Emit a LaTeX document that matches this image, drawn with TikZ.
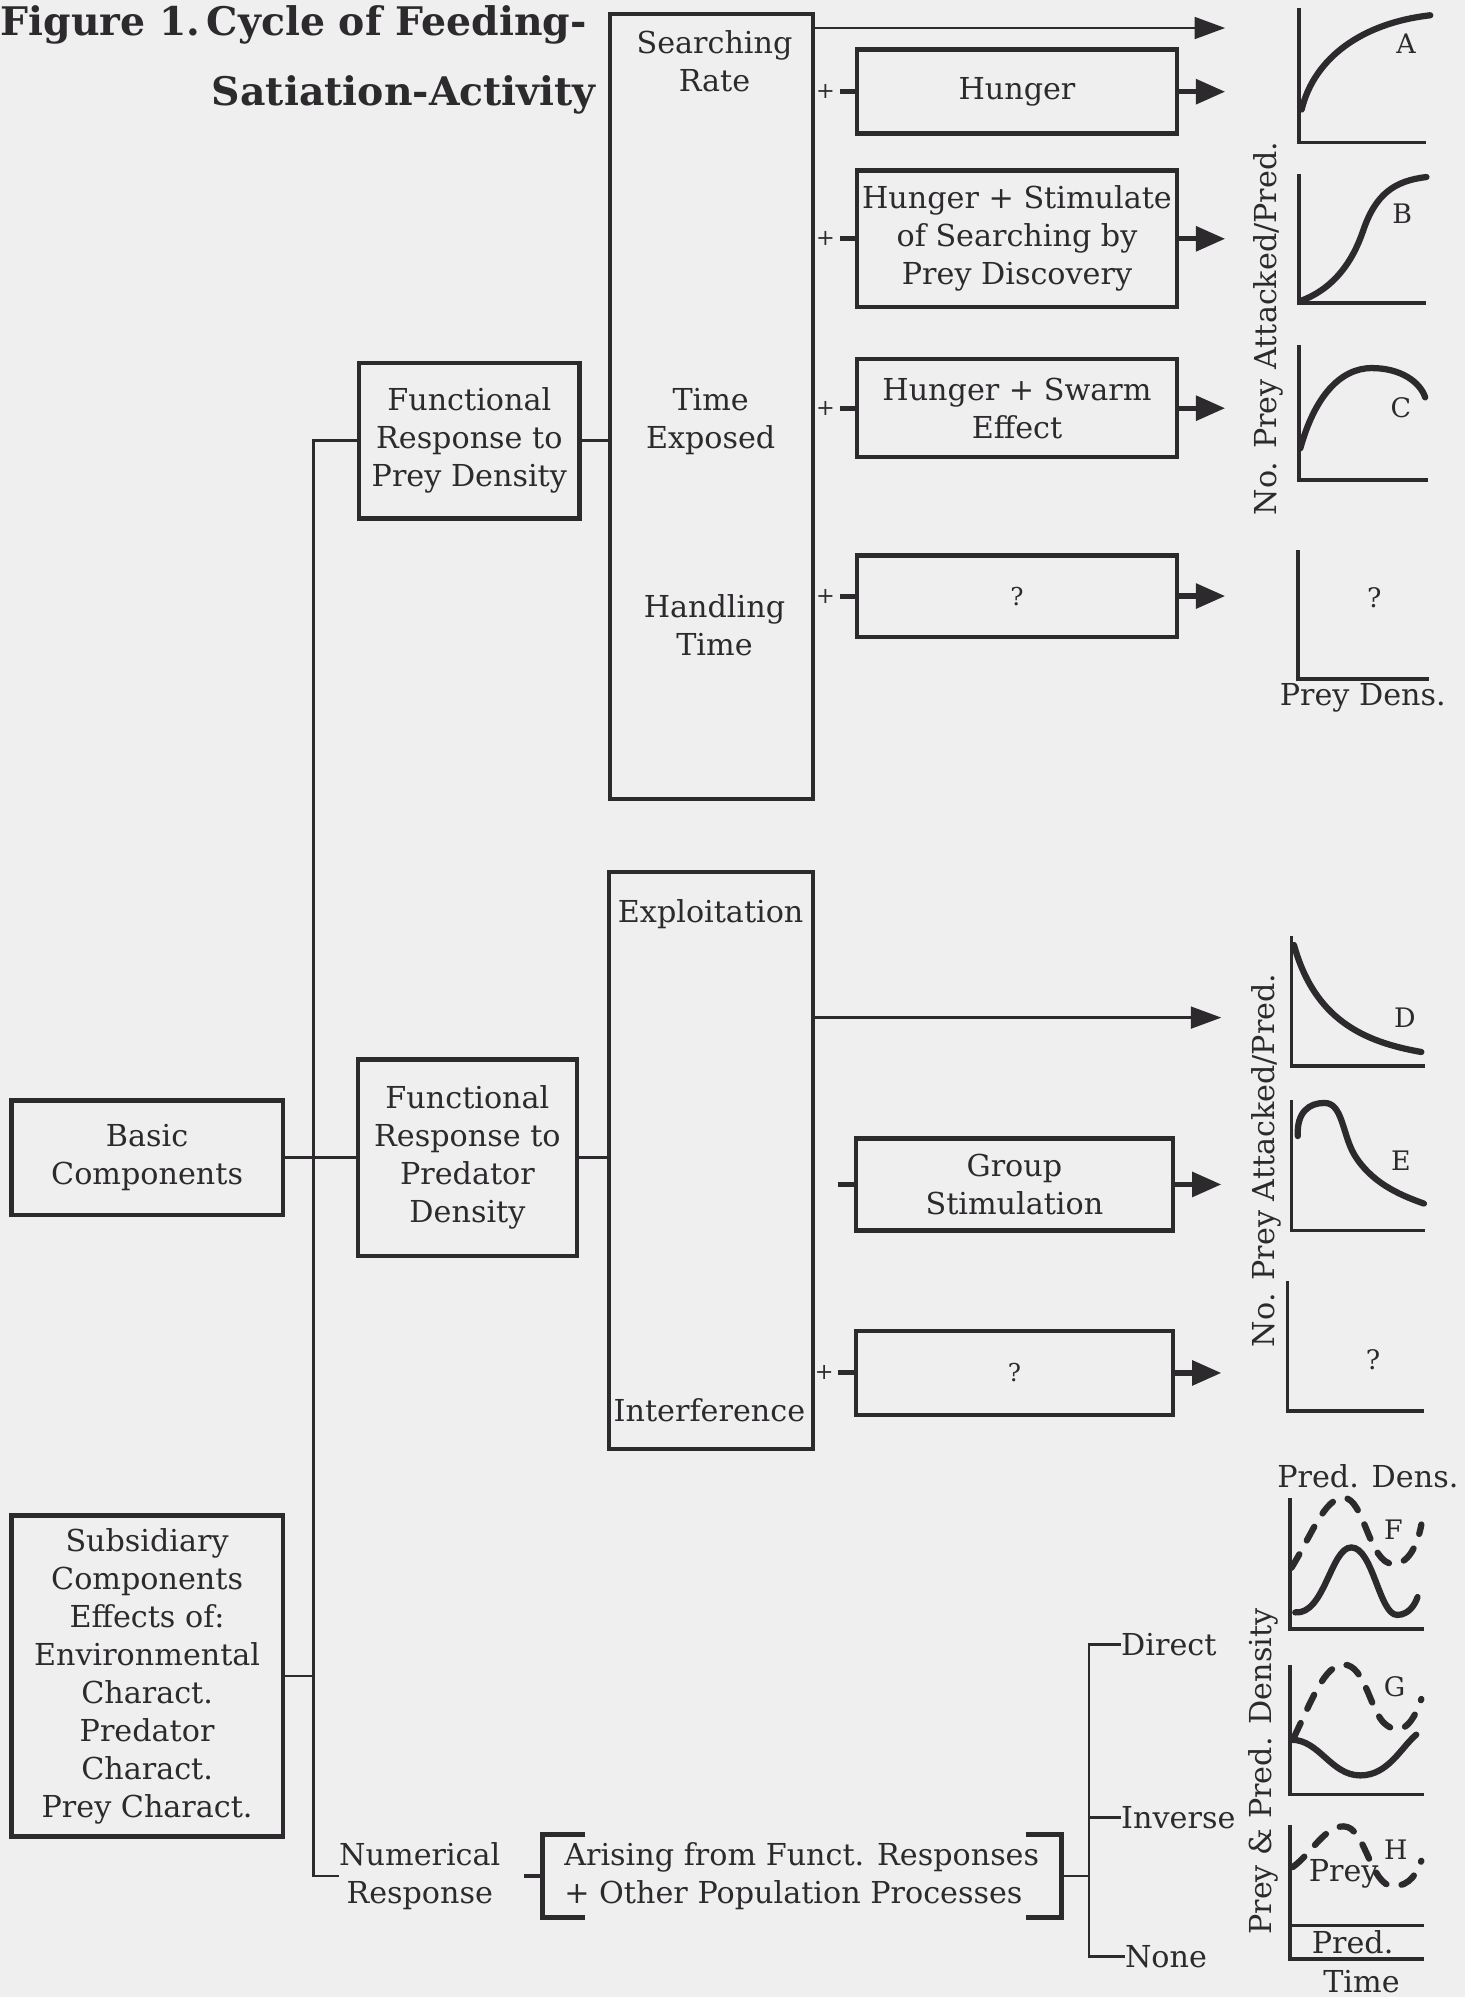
\documentclass[tikz,border=0pt]{standalone}
\usepackage{fontspec}
\setmainfont{DejaVu Serif}
\usepackage{tikz}
\usetikzlibrary{arrows.meta,calc}
\definecolor{paper}{RGB}{239,239,239}
\definecolor{ink}{RGB}{45,42,45}
\tikzset{
  every node/.style={text=ink, font=\fontsize{13.5}{17}\selectfont},
  cbox/.style args={#1/#2}{% #1=width, #2=height
    draw=ink, line width=2pt, align=center, inner sep=0pt,
    minimum width=#1*0.02cm, minimum height=#2*0.02cm},
  column/.style args={#1/#2}{
    draw=ink, line width=1.8pt, inner sep=0pt,
    minimum width=#1*0.02cm, minimum height=#2*0.02cm},
  txt/.style={align=center, inner sep=0pt},
  titletext/.style={anchor=base east, inner sep=0pt, font=\fontsize{17.6}{22}\selectfont\bfseries},
  conn/.style={draw=ink, line width=1.2pt},
  tick/.style={draw=ink, line width=2.2pt},
  plus/.style={font=\fontsize{10}{12}\selectfont, inner sep=0pt},
  thinarrow/.style={draw=ink, line width=1.3pt, -{Triangle[length=0.48cm,width=0.34cm]}},
  fatarrow/.style={draw=ink, line width=2.4pt, -{Triangle[length=0.46cm,width=0.38cm]}},
  axis/.style={draw=ink, line width=1.6pt},
  curve/.style={draw=ink, line width=2.8pt, line cap=round},
  dcurve/.style={curve, dash pattern=on 7pt off 7pt},
  glabel/.style={font=\fontsize{12}{14}\selectfont, inner sep=0pt},
}
\tikzset{
  pics/axes/.style args={#1/#2}{% #1=width, #2=height
    code = {
      \draw[axis] (0,-#2) -- (0,0) -- (#1,0);
}}}

\begin{document}
\begin{tikzpicture}[x=0.02cm, y=-0.02cm]
  \fill[paper] (0,0) rectangle (1150,1568);
  \useasboundingbox (0,0) rectangle (1150,1568);

  % title
  \node[titletext] (title1) at (461,28) {Figure 1.\,Cycle of Feeding-};
  \node[titletext] (title2) at (468,83) {Satiation-Activity};

  % left column
  \node[cbox=213/90] (basic) at (115.5,909) {Basic\\Components};
  \node[cbox=213/252] (subsid) at (115.5,1316) {Subsidiary\\Components\\Effects of:\\Environmental\\Charact.\\Predator\\Charact.\\Prey Charact.};
  \node[cbox=173/122] (frprey) at (368.5,346) {Functional\\Response to\\Prey Density};
  \node[cbox=172/154] (frpred) at (367,909) {Functional\\Response to\\Predator\\Density};
  \node[txt, anchor=west] (numresp) at (266,1473) {Numerical\\Response};

  % tall columns
  \node[column=159/616] (preycol) at (558.5,319) {};
  \node[txt] (srate) at (561,48) {Searching\\Rate};
  \node[txt] (texp) at (558,331) {Time\\Exposed};
  \node[txt] (htime) at (561,491) {Handling\\Time};
  \node[column=160/453] (predcol) at (558,911.5) {};
  \node[txt] (exploit) at (558,718) {Exploitation};
  \node[txt] (interf) at (557,1107) {Interference};

  % mechanism boxes
  \node[cbox=251/66] (hunger) at (798.5,72) {Hunger};
  \node[cbox=251/107] (stim) at (798.5,187.5) {Hunger + Stimulate\\of Searching by\\Prey Discovery};
  \node[cbox=251/77] (swarm) at (798.5,320.5) {Hunger + Swarm\\Effect};
  \node[cbox=251/64, font=\fontsize{11}{13}\selectfont] (qprey) at (798.5,468) {?};
  \node[cbox=249/72] (group) at (796.5,930) {Group\\Stimulation};
  \node[cbox=249/66, font=\fontsize{11}{13}\selectfont] (qpred) at (796.5,1078) {?};

  % numerical response
  \node[txt, align=left, minimum width=407*0.02cm, minimum height=64*0.02cm] (arising) at (629.5,1473) {Arising from Funct. Responses\\+ Other Population Processes};
  \node[txt, anchor=west] (dirnum) at (880,1291) {Direct};
  \node[txt, anchor=west] (invnum) at (880,1427) {Inverse};
  \node[txt, anchor=west] (nonenum) at (883,1536) {None};

  % connectors
  \draw[conn] (frprey.west) -- ++(-34,0) coordinate (trunk) |- (numresp.west);
  \draw[conn] (basic.east) -- (frpred.west);
  \draw[conn] (subsid.east) -- (subsid.east -| trunk);
  \draw[conn] (frprey.east) -- (frprey.east -| preycol.west);
  \draw[conn] (frpred.east) -- (frpred.east -| predcol.west);
  \foreach \b in {hunger,stim,swarm,qprey,qpred}{
    \draw[tick] (\b.west) -- ++(-12,0);
    \node[plus] (plus\b) at ($(\b.west)+(-23,0)$) {+};
  }
  \draw[tick] (group.west) -- ++(-12,0);

  \coordinate (tipA) at (962,22);
  \coordinate (tipD) at (959,799);
  \draw[thinarrow] (preycol.east |- tipA) -- (tipA);
  \draw[thinarrow] (predcol.east |- tipD) -- (tipD);
  \foreach \b in {hunger,stim,swarm,qprey} \draw[fatarrow] (\b.east) -- (\b.east -| tipA);
  \foreach \b in {group,qpred} \draw[fatarrow] (\b.east) -- (\b.east -| tipD);

  \draw[tick] ($(arising.north west)+(34,0)$) -- (arising.north west) -- (arising.south west) -- ++(34,0);
  \draw[tick] ($(arising.north east)+(-28,0)$) -- (arising.north east) -- (arising.south east) -- ++(-28,0);
  \draw[tick] (arising.west) -- ++(-14,0);
  \draw[conn] (arising.east) -- ++(22,0);
  \draw[conn] (dirnum.west) -- ++(-25,0) |- (nonenum.west);
  \draw[conn] (invnum.west) -- ++(-25,0);

  % graphs
  \pic (grA) at (1020,112) {axes=100/106};
  \pic (grB) at (1020,238) {axes=100/101};
  \pic (grC) at (1020,377) {axes=101/106};
  \pic (grQ1) at (1019,533) {axes=103/101};
  \pic (grD) at (1014,837) {axes=105/102};
  \pic (grE) at (1014,966) {axes=105/102};
  \pic (grQ2) at (1011,1108) {axes=107/102};
  \pic (grF) at (1013,1279) {axes=105/103};
  \pic (grG) at (1013,1409) {axes=105/102};
  \pic (grH) at (1013,1538) {axes=105/105};
  \draw[axis] (1013,1512) -- (1118,1512);

  \draw[curve] (1022,86) .. controls (1032,45) and (1070,18) .. (1123,12);
  \draw[curve] (1022,236) .. controls (1048,226) and (1062,205) .. (1070,182) .. controls (1080,152) and (1095,142) .. (1120,139);
  \draw[curve] (1021,352) .. controls (1032,312) and (1052,289) .. (1077,289) .. controls (1100,289) and (1115,300) .. (1119,312);
  \draw[curve] (1016,742) .. controls (1032,800) and (1070,818) .. (1116,826);
  \draw[curve] (1019,892) .. controls (1018,873) and (1028,866) .. (1040,866) .. controls (1054,866) and (1054,890) .. (1063,906) .. controls (1076,928) and (1098,938) .. (1118,945);
  \draw[curve] (1017,1266) .. controls (1040,1268) and (1045,1215) .. (1061,1215) .. controls (1078,1215) and (1083,1268) .. (1097,1268) .. controls (1106,1268) and (1111,1260) .. (1113,1254);
  \draw[dcurve] (1014,1231) .. controls (1030,1205) and (1040,1176) .. (1055,1176) .. controls (1071,1176) and (1075,1228) .. (1094,1228) .. controls (1108,1228) and (1114,1208) .. (1116,1197);
  \draw[curve] (1014,1366) .. controls (1036,1366) and (1045,1394) .. (1068,1394) .. controls (1090,1394) and (1100,1372) .. (1112,1362);
  \draw[dcurve] (1016,1364) .. controls (1030,1335) and (1040,1307) .. (1055,1307) .. controls (1072,1307) and (1076,1345) .. (1088,1354) .. controls (1098,1362) and (1108,1358) .. (1116,1334);
  \draw[dcurve] (1015,1466) .. controls (1030,1455) and (1040,1434) .. (1055,1434) .. controls (1072,1434) and (1076,1481) .. (1094,1481) .. controls (1107,1481) and (1113,1470) .. (1116,1461);

  \node[glabel] (labA) at (1104,34) {A};
  \node[glabel] (labB) at (1101,168) {B};
  \node[glabel] (labC) at (1100,320) {C};
  \node[glabel] (labQ1) at (1079,469) {?};
  \node[glabel] (labD) at (1103,799) {D};
  \node[glabel] (labE) at (1100,911) {E};
  \node[glabel] (labQ2) at (1078,1068) {?};
  \node[glabel] (labF) at (1094,1201) {F};
  \node[glabel] (labG) at (1095,1324) {G};
  \node[glabel] (labH) at (1096,1452) {H};
  \node[inner sep=0pt] (preylab) at (1055,1471) {Prey};
  \node[inner sep=0pt] (predlab) at (1062,1525) {Pred.};
  \node[inner sep=0pt] (timelab) at (1069,1556) {Time};
  \node[inner sep=0pt] (xlab1) at (1070,548) {Prey Dens.};
  \node[inner sep=0pt] (xlab2) at (1074,1159) {Pred. Dens.};
  \node[rotate=90, inner sep=0pt] (ylab1) at (996,258) {No. Prey Attacked/Pred.};
  \node[rotate=90, inner sep=0pt] (ylab2) at (994,911) {No. Prey Attacked/Pred.};
  \node[rotate=90, inner sep=0pt] (ylab3) at (992,1391) {Prey \& Pred. Density};
\end{tikzpicture}
\end{document}
